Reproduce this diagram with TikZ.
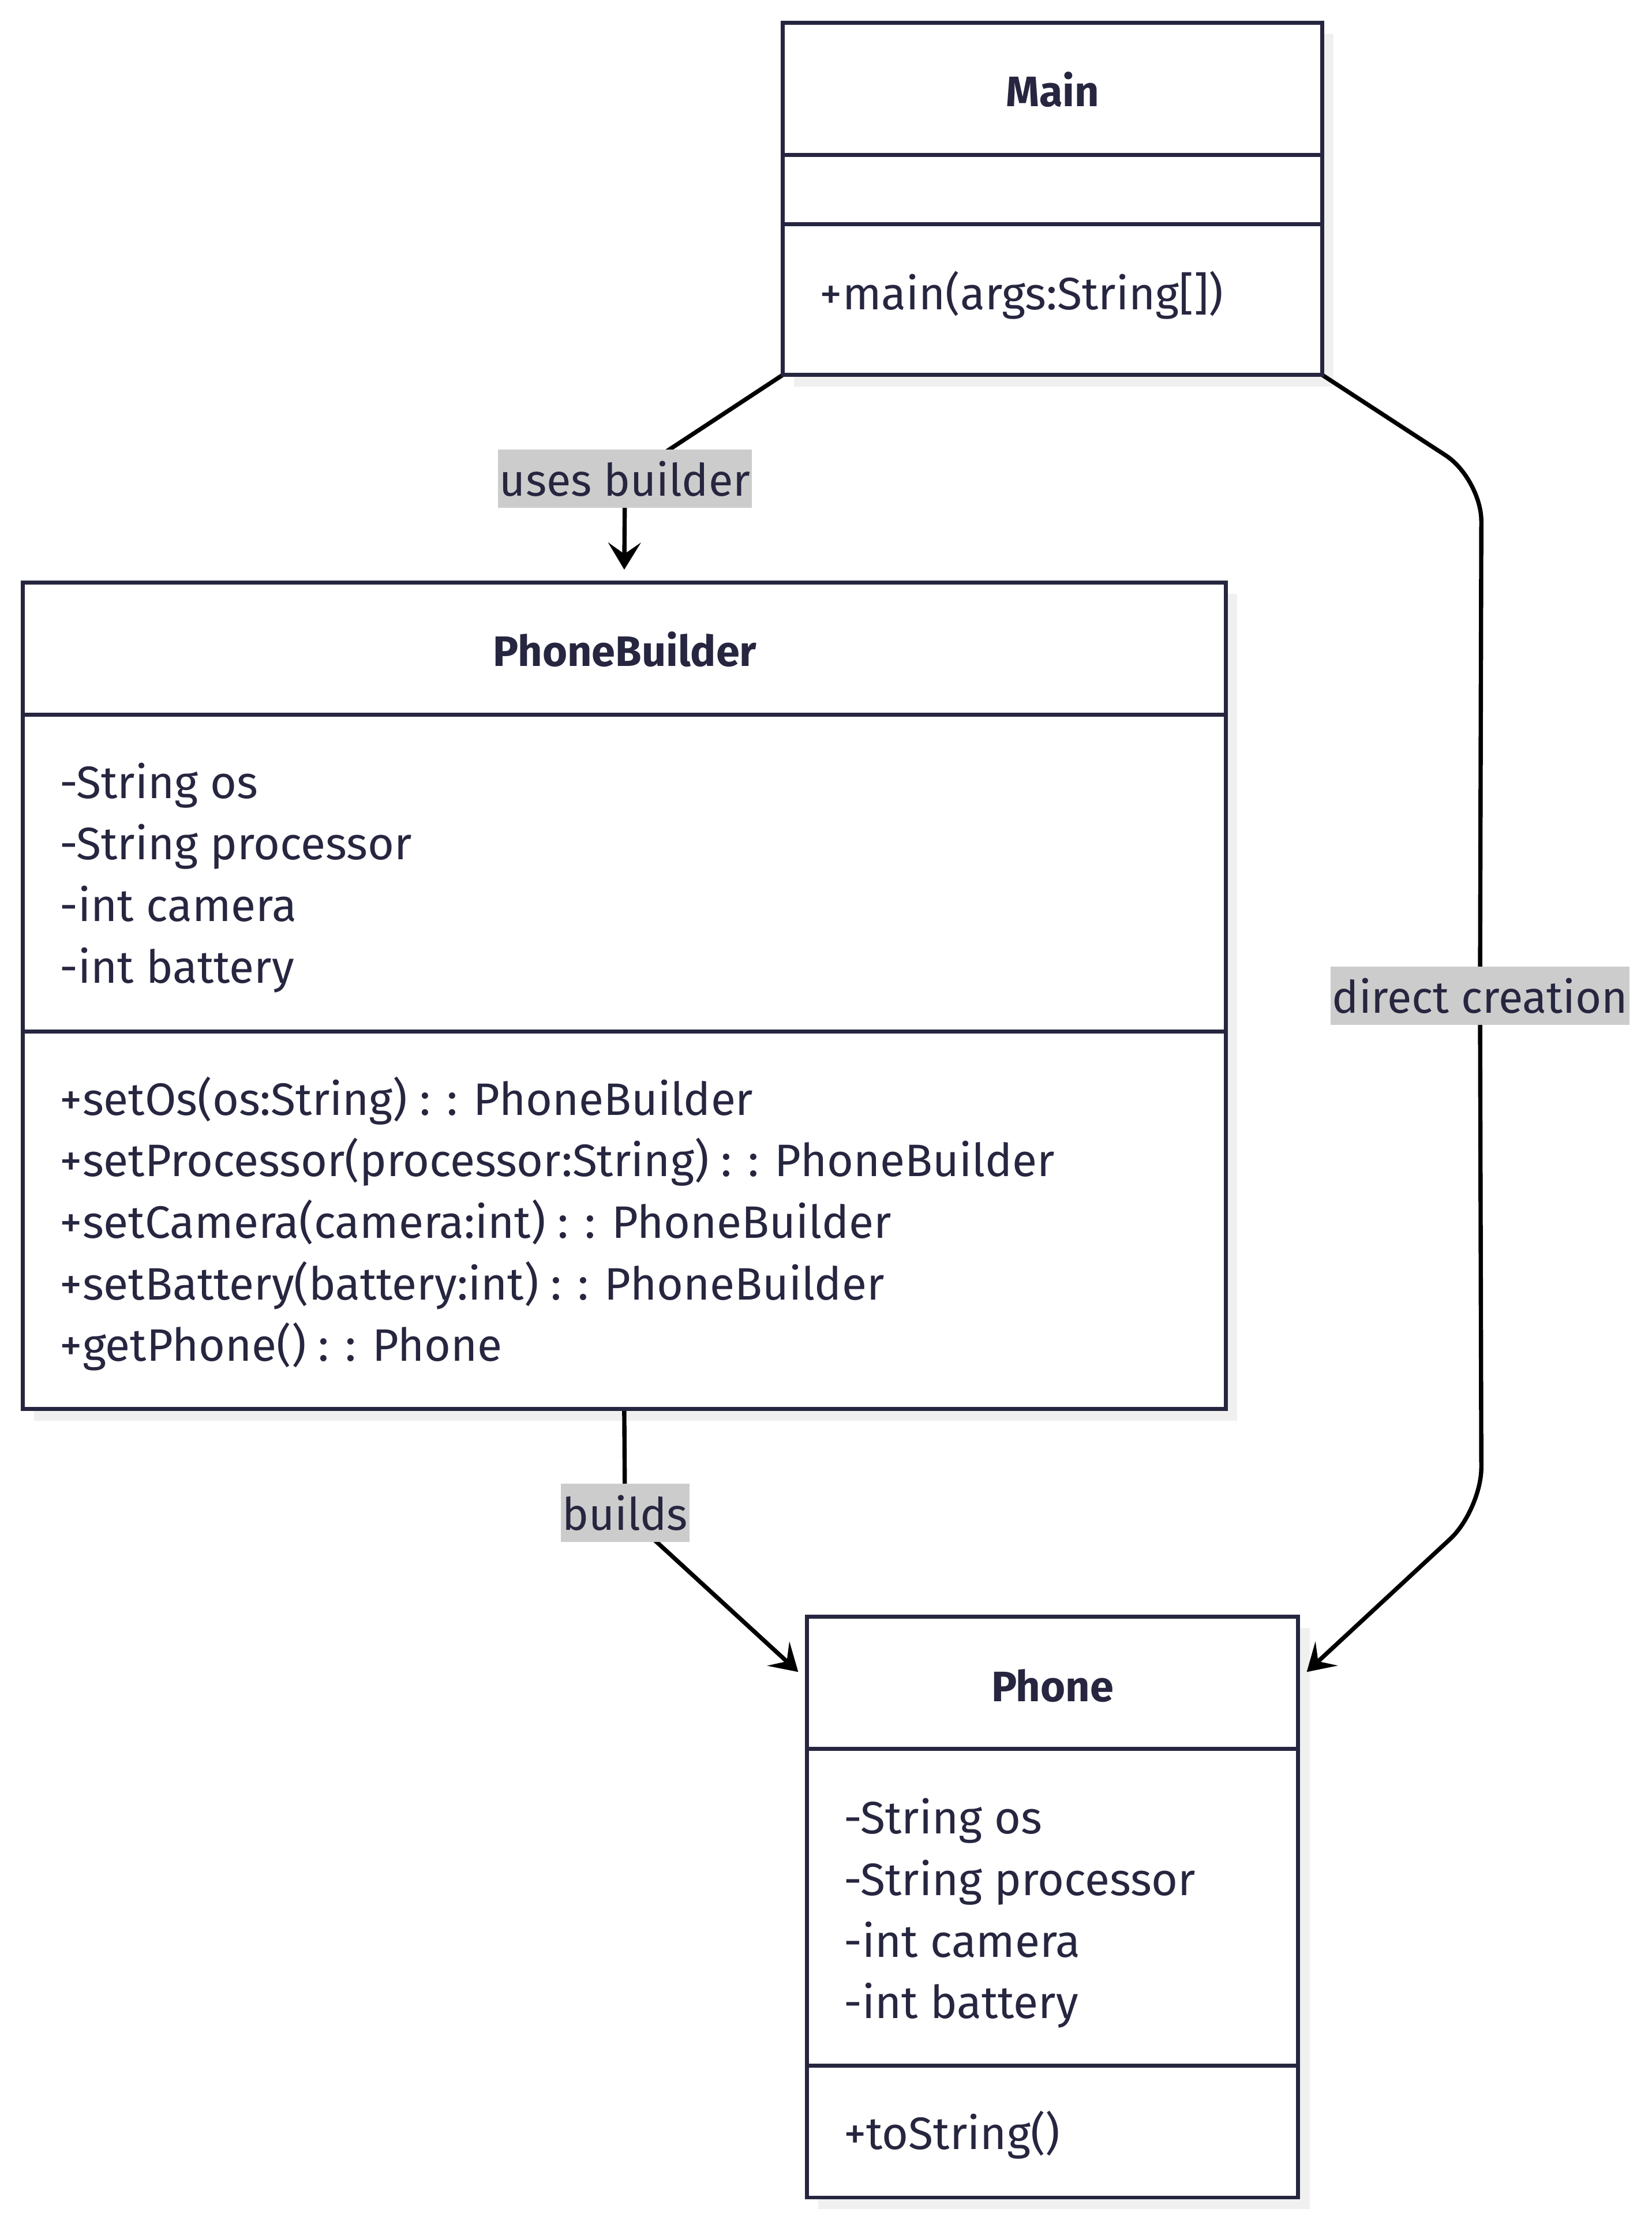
\documentclass[tikz,border=0pt]{standalone}
\usepackage{fontspec}
\setmainfont{Fira Sans}
\usepackage{xcolor}
\usepackage{tikz}
\usetikzlibrary{calc,arrows.meta,backgrounds}
\definecolor{umlink}{HTML}{272640}
\definecolor{umlshadow}{HTML}{F0F0F0}
\definecolor{umllabel}{HTML}{CCCCCC}

\begin{document}
\begin{tikzpicture}[x=1pt,y=-1pt,
    classbox/.style={draw=umlink, line width=2.8pt, fill=white, inner sep=0pt, outer sep=0pt},
    divider/.style={draw=umlink, line width=2.8pt},
    member/.style={anchor=base west, inner sep=0pt, text=umlink, font=\fontsize{32}{36}\selectfont},
    title/.style={anchor=base, inner sep=0pt, text=umlink, font=\fontsize{30}{36}\selectfont\bfseries},
    lbl/.style={fill=umllabel, text=umlink, inner xsep=1pt, inner ysep=0pt, minimum height=41pt, font=\fontsize{31.5}{36}\selectfont},
    rel/.style={line width=3pt, line join=round, rounded corners=30pt, -{Stealth[length=19pt, width=23pt, inset=8pt]}}]
    \useasboundingbox (0,0) rectangle (1163,1560);

    % Class boxes
    \node[classbox, minimum width=380pt, minimum height=248pt] (main) at (741,140) {};
    \node[classbox, minimum width=847pt, minimum height=582pt] (builder) at (439.5,701) {};
    \node[classbox, minimum width=346pt, minimum height=409pt] (phone) at (741,1342.5) {};

    % Compartments
    \draw[divider] (main.west |- 0,109) -- (main.east |- 0,109);
    \draw[divider] (main.west |- 0,158) -- (main.east |- 0,158);
    \draw[divider] (builder.west |- 0,503) -- (builder.east |- 0,503);
    \draw[divider] (builder.west |- 0,726) -- (builder.east |- 0,726);
    \draw[divider] (phone.west |- 0,1231) -- (phone.east |- 0,1231);
    \draw[divider] (phone.west |- 0,1454) -- (phone.east |- 0,1454);

    % Main
    \node[title] (maintitle) at (741,75) {Main};
    \node[member] (mainop) at (577,218) {+main(args:String[])};

    % PhoneBuilder
    \node[title] (buildertitle) at (440,469) {PhoneBuilder};
    \foreach \t [count=\i from 0] in {-String os, -String processor, -int camera, -int battery}
        \node[member] (builderattr\i) at (42,{562+43.3*\i}) {\t};
    \foreach \t [count=\i from 0] in {+setOs(os:String) : : PhoneBuilder,
            +setProcessor(processor:String) : : PhoneBuilder,
            +setCamera(camera:int) : : PhoneBuilder,
            +setBattery(battery:int) : : PhoneBuilder,
            +getPhone() : : Phone}
        \node[member] (builderop\i) at (42,{785+43.3*\i}) {\t};

    % Phone
    \node[title] (phonetitle) at (741,1198) {Phone};
    \foreach \t [count=\i from 0] in {-String os, -String processor, -int camera, -int battery}
        \node[member] (phoneattr\i) at (594,{1291+43.3*\i}) {\t};
    \node[member] (phoneop) at (594,1513) {+toString()};

    % Edge labels
    \node[lbl] (useslbl) at (440,337) {uses builder};
    \node[lbl] (directlbl) at (1042,701) {direct creation};
    \node[lbl] (buildslbl) at (440,1065) {builds};

    % Connector ends
    \coordinate (builderin) at ($(builder.north)+(0,-9)$);
    \coordinate (directtop) at (1043,337);
    \coordinate (directbot) at (1043,1063);
    \coordinate (directin) at ($(phone.north east)+(6,39)$);
    \coordinate (buildsin) at ($(phone.north west)+(-6,39)$);

    % Shadows and connectors
    \begin{scope}[on background layer]
        \foreach \b in {main,builder,phone}
            \fill[umlshadow] ($(\b.north west)+(8,8)$) rectangle ($(\b.south east)+(8,8)$);
        \draw[rel, rounded corners=18pt] (main.south west) -- (useslbl.center) -- (builderin);
        \draw[rel] (main.south east) -- (directtop) -- (directlbl.center) -- (directbot) -- (directin);
        \draw[rel, rounded corners=15pt] (builder.south) -- (buildslbl.center) -- (buildsin);
    \end{scope}
\end{tikzpicture}
\end{document}
